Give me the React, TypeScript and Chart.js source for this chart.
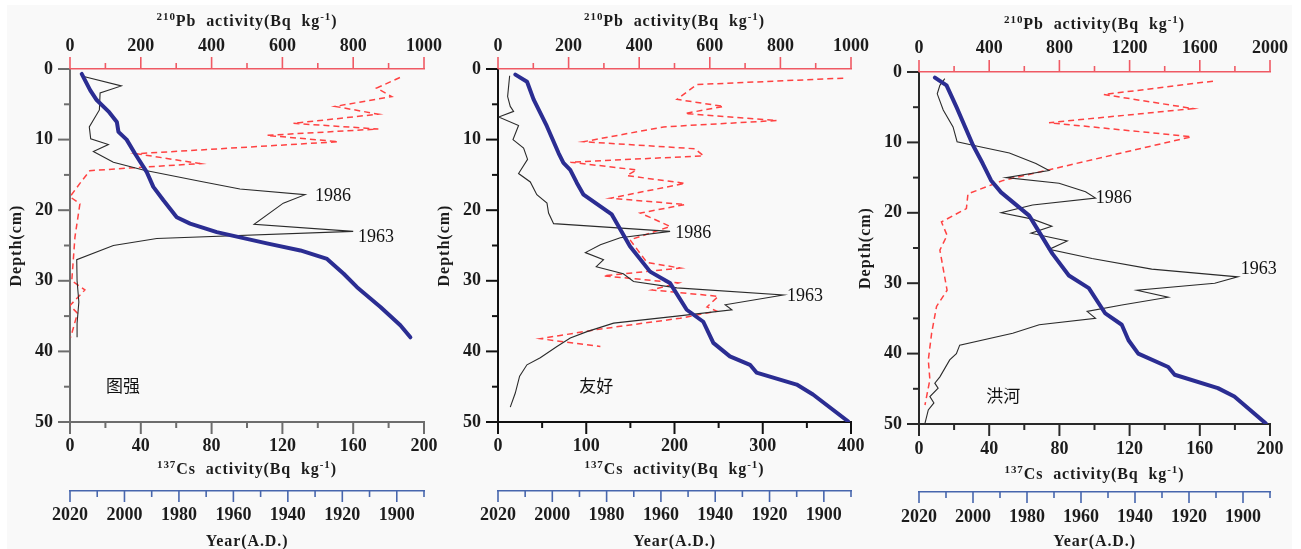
import React, { useEffect, useRef } from 'react';
import { Chart, registerables } from 'chart.js';
Chart.register(...registerables);

// ---------------- Data: 图强 (Tuqiang) ----------------
const tqCsDepth = [1, 2.4, 3.4, 5.8, 8.2, 9.9, 10.7, 11.7, 13.2, 14.3, 15.9, 17, 17.8, 19, 22, 23, 24, 25, 27, 30, 33, 36, 38];
const tqCs = [6.6, 29, 17, 16.6, 10.9, 11.7, 21.7, 13.2, 24.5, 41.4, 73.4, 96, 132.8, 120.5, 104, 160, 49, 24.5, 3.8, 4, 5, 4, 4];
const tqPbDepth = [1.2, 2.7, 3.9, 5.3, 6.4, 7.7, 8.5, 9.4, 10.3, 12, 13.4, 13.9, 14.4, 16.2, 18.1, 19.1, 23.8, 30, 31.3, 33.5, 34.6, 38];
const tqPb = [932, 866, 909, 749, 871, 631, 871, 556, 758, 188, 367, 207, 56, 28, 0, 28, 14, 5, 42, 0, 21, 2];
const tqAgeDepth = [0.7, 3, 4.4, 6, 7.5, 8.9, 10, 12, 14.6, 16.7, 18.6, 21, 21.9, 23.1, 24.7, 25.7, 26.9, 29, 30.9, 33.7, 36.3, 38];
const tqAge = [2015.7, 2012.6, 2010.2, 2005.9, 2002.8, 2002.2, 1999.2, 1996.1, 1991.8, 1989.4, 1985.7, 1980.8, 1975.9, 1966.1, 1947.7, 1935.4, 1925.6, 1919.5, 1914.6, 1906, 1898.7, 1895];
const tqPeakText = ['1986', '1963'];
const tqPeakCs = [138.4, 162.7];
const tqPeakDepth = [18.0, 23.8];

// ---------------- Data: 友好 (Youhao) ----------------
const yhCsDepth = [0.95, 3.9, 5.3, 6.0, 6.8, 8.0, 10, 11.2, 12.8, 14.8, 16, 17.8, 19, 20.4, 21.9, 23, 23.9, 24.9, 26, 27, 28, 29, 30.1, 31, 32, 33.4, 34.1, 35, 36, 37.2, 38.1, 39.3, 40.9, 41.9, 43.5, 45.9, 47.9];
const yhCs = [13.2, 10.9, 13.9, 17.7, 0.7, 23.3, 17, 29, 33.5, 23.3, 36.6, 44, 55.5, 57.3, 63, 195, 138.5, 116, 99, 119.6, 111.3, 142, 153.6, 202.7, 323.4, 257.4, 265, 202.7, 131, 100.8, 81.9, 66.8, 47.9, 32.8, 24.5, 19.6, 13.9];
const yhPbDepth = [1.3, 2.2, 4.3, 5.3, 6.3, 7.3, 8.2, 10.3, 11.3, 12.3, 13.2, 14.3, 15.1, 16.2, 18.3, 19.2, 20.4, 22.3, 24.2, 27.4, 28.2, 29.3, 30.3, 31.3, 32.2, 33.7, 34.3, 35.3, 36.9, 38.2, 38.7, 39.3];
const yhPb = [978, 563, 507, 639, 530, 790, 469, 242, 558, 582, 205, 393, 365, 530, 318, 530, 403, 488, 374, 422, 516, 299, 511, 436, 624, 592, 620, 516, 280, 120, 195, 290];
const yhAgeDepth = [0.8, 1.8, 4.3, 8.1, 11.9, 13.3, 14.3, 16.1, 17.8, 20.6, 25.1, 28.7, 30.3, 34.1, 35.8, 38.8, 40.7, 41.9, 43, 44.7, 46.1, 49.9];
const yhAge = [2013.6, 2009.3, 2006.9, 2002, 1997.7, 1995.9, 1993.4, 1991, 1988.5, 1978.1, 1971.4, 1964, 1956.7, 1950.5, 1944.4, 1940.7, 1934.6, 1927.2, 1924.8, 1910, 1904, 1891.1];
const yhPeakText = ['1986', '1963'];
const yhPeakCs = [200.8, 327.6];
const yhPeakDepth = [23.2, 32.2];

// ---------------- Data: 洪河 (Honghe) ----------------
const hhCsDepth = [0.95, 1.9, 3.1, 5.4, 7.8, 9.9, 10.5, 11.5, 13, 14, 15, 15.8, 17, 17.9, 18.9, 20, 20.9, 21.9, 22.9, 24, 25.2, 26.5, 28, 29.1, 30, 31, 32, 33.1, 34, 35, 35.9, 37.1, 38.8, 40, 40.9, 43.3, 44.2, 44.9, 46.1, 47, 48, 49.9];
const hhCs = [14.7, 11.9, 10.4, 13.8, 19.4, 21.7, 32.7, 51.5, 66.6, 74.1, 49.6, 79.8, 94.9, 100.6, 64.7, 46.8, 64.7, 75.7, 63.8, 84.5, 74.1, 98.6, 132.6, 181.7, 168.5, 124.1, 142, 115.6, 95.8, 100.6, 68.5, 53.4, 23.2, 21.3, 17.5, 11.9, 9, 10.9, 6.2, 8.5, 5.3, 3.4];
const hhPbDepth = [1.3, 3.2, 5.2, 7.2, 9.2, 15.4, 17.3, 19.4, 21.3, 23.2, 25.3, 31, 33.3, 37.1, 40.9, 43.7, 47.3];
const hhPb = [1675, 1053, 1562, 741, 1552, 480, 279, 270, 128, 160, 119, 160, 100, 72, 53, 62, 34];
const hhAgeDepth = [0.8, 1.9, 5, 10.4, 13, 15.4, 17.1, 20.4, 25.8, 28.9, 30.7, 34.3, 35.9, 38.1, 40, 41.9, 43, 44.9, 46.1, 49.9];
const hhAge = [2014.1, 2009.8, 2006.1, 2000, 1996.4, 1993.3, 1989.6, 1979.2, 1970.6, 1964.5, 1957.1, 1951, 1944.9, 1942.4, 1938.8, 1927.7, 1925.3, 1909.3, 1903.2, 1891.6];
const hhPeakText = ['1986', '1963'];
const hhPeakCs = [100.7, 183.4];
const hhPeakDepth = [18.0, 28.0];

// ---------------- Axis ranges / labels ----------------
const stationNames = ['图强', '友好', '洪河'];
const stationNameCs = [20.3, 92, 38.3];
const stationNameDepth = [44.8, 44.9, 45.9];
const csMaxes = [200, 400, 200];
const csSteps = [20, 50, 20];
const csLabelEvery = [40, 100, 40];
const pbMaxes = [1000, 1000, 2000];
const pbSteps = [100, 100, 200];
const pbLabelEvery = [200, 200, 400];
const yearMin = 1890;
const yearMax = 2020;
const depthMax = 50;

const W = 1301;
const H = 549;
const SERIF = '"Liberation Serif", "DejaVu Serif", serif';
const RED_AXIS = '#ef5a64';
const BLUE_AXIS = '#4766ad';
const TXT = '#1c1c1c';

type Geom = { L: number; R: number; T: number; B: number; csH: number; csPad: number; pbPad: number; yrPad: number; csTitle: number; axisColor: string };
const geoms: Geom[] = [
  { L: 70, R: 424, T: 69, B: 422, csH: 69, csPad: 14, pbPad: 12, yrPad: 14, csTitle: 473.5, axisColor: '#6d6d6d' },
  { L: 498, R: 851, T: 69, B: 422, csH: 69, csPad: 14, pbPad: 12, yrPad: 14, csTitle: 474, axisColor: '#111111' },
  { L: 919, R: 1272, T: 72, B: 424, csH: 68, csPad: 15, pbPad: 13, yrPad: 14.5, csTitle: 479, axisColor: '#2a2a2a' },
];

type PanelData = {
  csDepth: number[]; cs: number[]; pbDepth: number[]; pb: number[]; ageDepth: number[]; age: number[];
  peakText: string[]; peakCs: number[]; peakDepth: number[];
};
const panels: PanelData[] = [
  { csDepth: tqCsDepth, cs: tqCs, pbDepth: tqPbDepth, pb: tqPb, ageDepth: tqAgeDepth, age: tqAge, peakText: tqPeakText, peakCs: tqPeakCs, peakDepth: tqPeakDepth },
  { csDepth: yhCsDepth, cs: yhCs, pbDepth: yhPbDepth, pb: yhPb, ageDepth: yhAgeDepth, age: yhAge, peakText: yhPeakText, peakCs: yhPeakCs, peakDepth: yhPeakDepth },
  { csDepth: hhCsDepth, cs: hhCs, pbDepth: hhPbDepth, pb: hhPb, ageDepth: hhAgeDepth, age: hhAge, peakText: hhPeakText, peakCs: hhPeakCs, peakDepth: hhPeakDepth },
];

const zip = (xs: number[], ys: number[]) => xs.map((x, i) => ({ x, y: ys[i] }));

function drawRich(ctx: CanvasRenderingContext2D, parts: [string, boolean][], cx: number, baseline: number) {
  const mainF = `700 16px ${SERIF}`;
  const supF = `700 11px ${SERIF}`;
  (ctx as any).letterSpacing = '0.9px';
  (ctx as any).wordSpacing = '5px';
  ctx.textAlign = 'left';
  ctx.textBaseline = 'alphabetic';
  let total = 0;
  const widths = parts.map(([t, sup]) => {
    ctx.font = sup ? supF : mainF;
    const w = ctx.measureText(t).width;
    total += w;
    return w;
  });
  let x = cx - total / 2;
  parts.forEach(([t, sup], i) => {
    ctx.font = sup ? supF : mainF;
    ctx.fillText(t, x, sup ? baseline - 6 : baseline);
    x += widths[i];
  });
  (ctx as any).letterSpacing = '0px';
  (ctx as any).wordSpacing = '0px';
}

function makeDecor(idx: number) {
  const g = geoms[idx];
  const d = panels[idx];
  return {
    id: 'decor' + idx,
    afterDraw(chart: any) {
      const ctx: CanvasRenderingContext2D = chart.ctx;
      const { left, right, top, bottom } = chart.chartArea;
      const sy = chart.scales.y, scs = chart.scales.cs, spb = chart.scales.pb, syr = chart.scales.yr;
      ctx.save();
      const ticks = (scale: any, dir: string, color: string, width: number, maj: number, min: number) => {
        ctx.strokeStyle = color;
        ctx.lineWidth = width;
        scale.ticks.forEach((t: any) => {
          const isMaj = t.label !== '' && t.label !== undefined;
          const len = isMaj ? maj : min;
          const px = scale.getPixelForValue(t.value);
          ctx.beginPath();
          if (dir === 'left') { ctx.moveTo(scale.right, px); ctx.lineTo(scale.right - len, px); }
          else if (dir === 'up') { ctx.moveTo(px, scale.bottom); ctx.lineTo(px, scale.bottom - len); }
          else { ctx.moveTo(px, scale.top); ctx.lineTo(px, scale.top + len); }
          ctx.stroke();
        });
      };
      ticks(sy, 'left', g.axisColor, 2, 12, 6);
      ticks(spb, 'up', RED_AXIS, 1.6, 12, 6);
      ticks(scs, 'down', g.axisColor, 2, 12, 6);
      ticks(syr, 'down', BLUE_AXIS, 1.6, 11, 6);

      ctx.fillStyle = TXT;
      const cx = (left + right) / 2;
      drawRich(ctx, [['210', true], ['Pb activity(Bq kg', false], ['-1', true], [')', false]], cx, top - 43);
      drawRich(ctx, [['137', true], ['Cs activity(Bq kg', false], ['-1', true], [')', false]], cx, g.csTitle);
      drawRich(ctx, [['Year(A.D.)', false]], cx, 545.5);

      // Depth title
      ctx.save();
      ctx.translate(left - 53, (top + bottom) / 2);
      ctx.rotate(-Math.PI / 2);
      ctx.font = `700 16px ${SERIF}`;
      (ctx as any).letterSpacing = '1px';
      ctx.textAlign = 'center';
      ctx.textBaseline = 'middle';
      ctx.fillText('Depth(cm)', 0, 0);
      (ctx as any).letterSpacing = '0px';
      ctx.restore();

      // peak labels
      ctx.font = `400 18px ${SERIF}`;
      ctx.textAlign = 'left';
      ctx.textBaseline = 'middle';
      ctx.fillStyle = '#111';
      d.peakText.forEach((t, i) => {
        ctx.fillText(t, scs.getPixelForValue(d.peakCs[i]), sy.getPixelForValue(d.peakDepth[i]));
      });
      // station name
      ctx.font = `400 17px "Noto Sans CJK SC", sans-serif`;
      ctx.fillText(stationNames[idx], scs.getPixelForValue(stationNameCs[idx]), sy.getPixelForValue(stationNameDepth[idx]));
      ctx.restore();
    },
  };
}

const tickFont = { family: SERIF, size: 18, weight: 'bold' as const };

function Panel({ idx }: { idx: number }) {
  const ref = useRef<HTMLCanvasElement>(null);
  useEffect(() => {
    const g = geoms[idx];
    const d = panels[idx];
    const chart = new Chart(ref.current!, {
      type: 'line',
      data: {
        datasets: [
          { data: zip(d.age, d.ageDepth), xAxisID: 'yr', yAxisID: 'y', borderColor: '#2b2d92', borderWidth: 4, borderJoinStyle: 'round', borderCapStyle: 'round', order: 0, pointRadius: 0 },
          { data: zip(d.cs, d.csDepth), xAxisID: 'cs', yAxisID: 'y', borderColor: '#2b2b2b', borderWidth: 1.1, order: 1, pointRadius: 0 },
          { data: zip(d.pb, d.pbDepth), xAxisID: 'pb', yAxisID: 'y', borderColor: '#ff4242', borderWidth: 1.5, borderDash: [6, 4], order: 2, pointRadius: 0 },
        ] as any,
      },
      options: {
        animation: false,
        responsive: false,
        devicePixelRatio: 1,
        indexAxis: 'y',
        layout: { padding: { left: g.L - 60, right: W - g.R, top: 0, bottom: 0 } },
        plugins: { legend: { display: false }, tooltip: { enabled: false } },
        elements: { line: { tension: 0 }, point: { radius: 0 } },
        scales: {
          y: {
            type: 'linear', position: 'left', reverse: true, min: 0, max: depthMax,
            ticks: { stepSize: 5, autoSkip: false, padding: 17, color: TXT, font: tickFont, callback: (v: any) => (v % 10 === 0 ? String(v) : '') },
            grid: { display: false, drawTicks: false },
            border: { display: true, color: g.axisColor, width: 2 },
            afterFit: (s: any) => { s.width = 60; },
          },
          pb: {
            type: 'linear', axis: 'x', position: 'top', min: 0, max: pbMaxes[idx],
            ticks: { stepSize: pbSteps[idx], autoSkip: false, maxRotation: 0, padding: g.pbPad, color: TXT, font: tickFont, callback: (v: any) => (v % pbLabelEvery[idx] === 0 ? String(v) : '') },
            grid: { display: false, drawTicks: false },
            border: { display: true, color: RED_AXIS, width: 1.6 },
            afterFit: (s: any) => { s.height = g.T; },
          },
          cs: {
            type: 'linear', axis: 'x', position: 'bottom', weight: 0, min: 0, max: csMaxes[idx],
            ticks: { stepSize: csSteps[idx], autoSkip: false, maxRotation: 0, padding: g.csPad, color: TXT, font: tickFont, callback: (v: any) => (v % csLabelEvery[idx] === 0 ? String(v) : '') },
            grid: { display: false, drawTicks: false },
            border: { display: true, color: g.axisColor, width: 2 },
            afterFit: (s: any) => { s.height = g.csH; },
          },
          yr: {
            type: 'linear', axis: 'x', position: 'bottom', weight: 1, min: yearMin, max: yearMax, reverse: true,
            ticks: { stepSize: 10, autoSkip: false, maxRotation: 0, padding: g.yrPad, color: TXT, font: tickFont, callback: (v: any) => (v % 20 === 0 ? String(v) : '') },
            grid: { display: false, drawTicks: false },
            border: { display: true, color: BLUE_AXIS, width: 1.6 },
            afterFit: (s: any) => { s.height = H - g.B - g.csH; },
          },
        } as any,
      },
      plugins: [makeDecor(idx)],
    });
    return () => chart.destroy();
  }, [idx]);
  return <canvas ref={ref} width={W} height={H} style={{ position: 'absolute', left: 0, top: 0, width: W, height: H }} />;
}

export default function App() {
  return (
    <div style={{ position: 'absolute', left: 0, top: 0, width: W, height: H, background: '#ffffff', overflow: 'hidden' }}>
      <div style={{ position: 'absolute', left: 7, top: 5, width: 1285, height: 544, background: '#f9f9f9' }} />
      <Panel idx={0} />
      <Panel idx={1} />
      <Panel idx={2} />
    </div>
  );
}
